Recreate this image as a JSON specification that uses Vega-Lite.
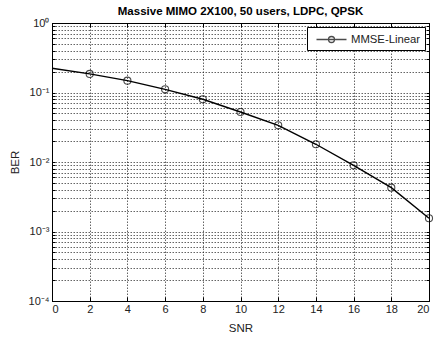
{
  "$schema": "https://vega.github.io/schema/vega-lite/v6.json",
  "width": 377,
  "height": 278,
  "autosize": "none",
  "padding": {"left": 52, "top": 23, "right": 6, "bottom": 36},
  "background": "white",
  "title": {
    "text": "Massive MIMO 2X100, 50 users, LDPC, QPSK",
    "font": "Liberation Sans",
    "fontSize": 11.5,
    "fontWeight": "bold",
    "color": "black",
    "anchor": "middle",
    "offset": 6,
    "dy": 6
  },
  "config": {
    "view": {"stroke": "black", "strokeWidth": 1},
    "axis": {
      "labelFont": "Liberation Sans",
      "labelFontSize": 11,
      "labelColor": "#222",
      "titleFont": "Liberation Sans",
      "titleFontSize": 11.5,
      "titleFontWeight": "normal",
      "titleColor": "#222",
      "domainColor": "black",
      "tickColor": "black",
      "gridColor": "#222",
      "gridDash": [1.5, 1.5],
      "gridWidth": 0.7,
      "gridOpacity": 1
    }
  },
  "data": {
    "values": [
      {"SNR": 0, "BER": 0.223},
      {"SNR": 2, "BER": 0.185},
      {"SNR": 4, "BER": 0.148},
      {"SNR": 6, "BER": 0.111},
      {"SNR": 8, "BER": 0.080},
      {"SNR": 10, "BER": 0.0524},
      {"SNR": 12, "BER": 0.0337},
      {"SNR": 14, "BER": 0.018},
      {"SNR": 16, "BER": 0.00896},
      {"SNR": 18, "BER": 0.00427},
      {"SNR": 20, "BER": 0.00155}
    ]
  },
  "layer": [
    {
      "mark": {"type": "line", "strokeWidth": 1.4},
      "encoding": {
        "x": {
          "field": "SNR", "type": "quantitative",
          "scale": {"domain": [0, 20], "nice": false},
          "axis": {
            "title": "SNR",
            "values": [0, 2, 4, 6, 8, 10, 12, 14, 16, 18, 20],
            "grid": true,
            "tickSize": -4,
            "labelPadding": 6,
            "titlePadding": 8
          }
        },
        "y": {
          "field": "BER", "type": "quantitative",
          "scale": {"type": "log", "domain": [0.0001, 1], "nice": false},
          "axis": {
            "title": "BER",
            "values": [0.0001, 0.0002, 0.0003, 0.0004, 0.0005, 0.0006, 0.0007, 0.0008, 0.0009,
                       0.001, 0.002, 0.003, 0.004, 0.005, 0.006, 0.007, 0.008, 0.009,
                       0.01, 0.02, 0.03, 0.04, 0.05, 0.06, 0.07, 0.08, 0.09,
                       0.1, 0.2, 0.3, 0.4, 0.5, 0.6, 0.7, 0.8, 0.9, 1],
            "labelExpr": "abs(log(datum.value)/LN10 - round(log(datum.value)/LN10)) < 0.001 ? ['10⁰','10⁻¹','10⁻²','10⁻³','10⁻⁴'][-round(log(datum.value)/LN10)] : ''",
            "grid": true,
            "tickSize": -3,
            "labelPadding": 6,
            "titlePadding": 8
          }
        },
        "color": {
          "datum": "MMSE-Linear",
          "scale": {"range": ["black"]},
          "legend": {
            "title": null,
            "orient": "none",
            "legendX": 255,
            "legendY": 4,
            "direction": "vertical",
            "strokeColor": "black",
            "fillColor": "white",
            "padding": 4,
            "symbolType": "M-2,0L2,0M0.4,0A0.4,0.4,0,1,1,-0.4,0A0.4,0.4,0,1,1,0.4,0",
            "symbolSize": 225,
            "symbolOffset": 12,
            "symbolStrokeWidth": 1.3,
            "symbolStrokeColor": "black",
            "symbolFillColor": "transparent",
            "labelFont": "Liberation Sans",
            "labelFontSize": 11.3,
            "labelColor": "#222",
            "labelOffset": 11
          }
        }
      }
    },
    {
      "transform": [{"filter": "datum.SNR > 0"}],
      "mark": {"type": "point", "shape": "circle", "size": 50, "strokeWidth": 1.1, "filled": false},
      "encoding": {
        "x": {
          "field": "SNR", "type": "quantitative",
          "axis": {
            "orient": "top",
            "values": [0, 2, 4, 6, 8, 10, 12, 14, 16, 18, 20],
            "labels": false, "grid": false, "title": null, "tickSize": -4
          }
        },
        "y": {
          "field": "BER", "type": "quantitative",
          "axis": {
            "orient": "right",
            "values": [0.0001, 0.0002, 0.0003, 0.0004, 0.0005, 0.0006, 0.0007, 0.0008, 0.0009,
                       0.001, 0.002, 0.003, 0.004, 0.005, 0.006, 0.007, 0.008, 0.009,
                       0.01, 0.02, 0.03, 0.04, 0.05, 0.06, 0.07, 0.08, 0.09,
                       0.1, 0.2, 0.3, 0.4, 0.5, 0.6, 0.7, 0.8, 0.9, 1],
            "labels": false, "grid": false, "title": null, "tickSize": -3
          }
        },
        "color": {"datum": "MMSE-Linear"}
      }
    }
  ],
  "resolve": {"axis": {"x": "independent", "y": "independent"}}
}
